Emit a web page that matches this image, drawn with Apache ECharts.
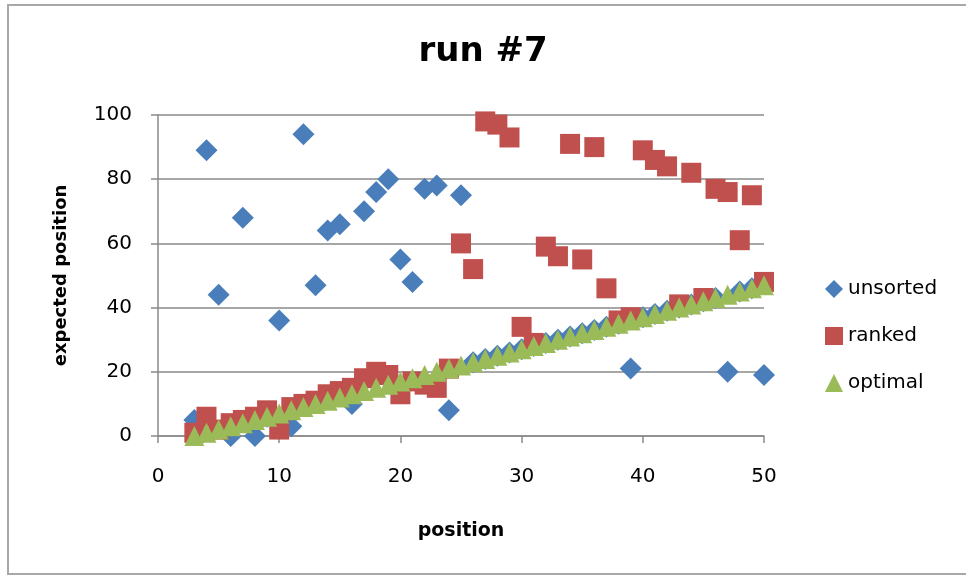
<!DOCTYPE html>
<html>
<head>
<meta charset="utf-8">
<script src="https://cdn.jsdelivr.net/npm/echarts@6/dist/echarts.min.js"></script>
<style>html,body{margin:0;padding:0;background:#fff;}#c{width:966px;height:579px;}</style>
</head>
<body>
<div id="c"></div>
<script>
const positions = [3,4,5,6,7,8,9,10,11,12,13,14,15,16,17,18,19,20,21,22,23,24,25,26,27,28,29,30,31,32,33,34,35,36,37,38,39,40,41,42,43,44,45,46,47,48,49,50];
const unsorted  = [5,89,44,0,68,0,6,36,3,94,47,64,66,10,70,76,80,55,48,77,78,8,75,23,24,25,26,27,28,29,30,31,32,33,34,35,21,37,38,39,40,41,42,43,20,45,46,19];
const ranked    = [1,6,2,4,5,6,8,2,9,10,11,13,14,15,18,20,19,13,17,16,15,21,60,52,98,97,93,34,29,59,56,91,55,90,46,36,37,89,86,84,41,82,43,77,76,61,75,48];
const optimal   = [0,1,2,3,4,5,6,7,8,9,10,11,12,13,14,15,16,17,18,19,20,21,22,23,24,25,26,27,28,29,30,31,32,33,34,35,36,37,38,39,40,41,42,43,44,45,46,47];
const seriesNames = ['unsorted','ranked','optimal'];
const xTicks = {min:0, max:50, interval:10};
const yTicks = {min:0, max:100, interval:20};

const pair = ys => positions.map((x,i)=>[x, ys[i]]);
const chart = echarts.init(document.getElementById('c'));
const gray = '#8a8a8a';
chart.setOption({
  animation:false,
  backgroundColor:'#fff',
  graphic:[{type:'rect', shape:{x:8,y:5,width:970,height:569}, style:{fill:'none', stroke:'#a8a8a8', lineWidth:2}, silent:true}],
  title:{text:'run #7', left:'center', top:30, textStyle:{fontFamily:'DejaVu Sans', fontWeight:'bold', fontSize:34, color:'#000'}},
  grid:{left:158, right:202, top:115, bottom:143},
  legend:{
    orient:'vertical', left:820, top:274, itemWidth:18, itemHeight:18, itemGap:27,
    textStyle:{fontFamily:'DejaVu Sans', fontSize:20, color:'#000', padding:[0,0,0,0]},
    data:[{name:'unsorted', icon:'diamond'},{name:'ranked', icon:'rect'},{name:'optimal', icon:'triangle'}]
  },
  xAxis:{
    type:'value', min:xTicks.min, max:xTicks.max, interval:xTicks.interval,
    name:'position', nameLocation:'middle', nameGap:86,
    nameTextStyle:{fontFamily:'DejaVu Sans', fontWeight:'bold', fontSize:19, color:'#000'},
    axisLine:{show:true, lineStyle:{color:gray, width:1.5}},
    axisTick:{show:true, length:7, lineStyle:{color:gray, width:1.5}},
    axisLabel:{fontFamily:'DejaVu Sans', fontSize:20, color:'#000', margin:31},
    splitLine:{show:false}
  },
  yAxis:{
    type:'value', min:yTicks.min, max:yTicks.max, interval:yTicks.interval,
    name:'expected position', nameLocation:'middle', nameGap:88,
    nameTextStyle:{fontFamily:'DejaVu Sans', fontWeight:'bold', fontSize:18, color:'#000'},
    axisLine:{show:true, lineStyle:{color:gray, width:1.5}},
    axisTick:{show:true, length:7, lineStyle:{color:gray, width:1.5}},
    axisLabel:{fontFamily:'DejaVu Sans', fontSize:20, color:'#000', margin:26},
    splitLine:{show:true, lineStyle:{color:gray, width:1.5}}
  },
  series:[
    {name:seriesNames[0], type:'scatter', symbol:'diamond', symbolSize:22, itemStyle:{color:'#4A7EBB', opacity:1}, data:pair(unsorted), z:2},
    {name:seriesNames[1], type:'scatter', symbol:'rect', symbolSize:20, itemStyle:{color:'#C0504D', opacity:1}, data:pair(ranked), z:3},
    {name:seriesNames[2], type:'scatter', symbol:'triangle', symbolSize:20, itemStyle:{color:'#9BBB59', opacity:1}, data:pair(optimal), z:4}
  ]
});
</script>
</body>
</html>
